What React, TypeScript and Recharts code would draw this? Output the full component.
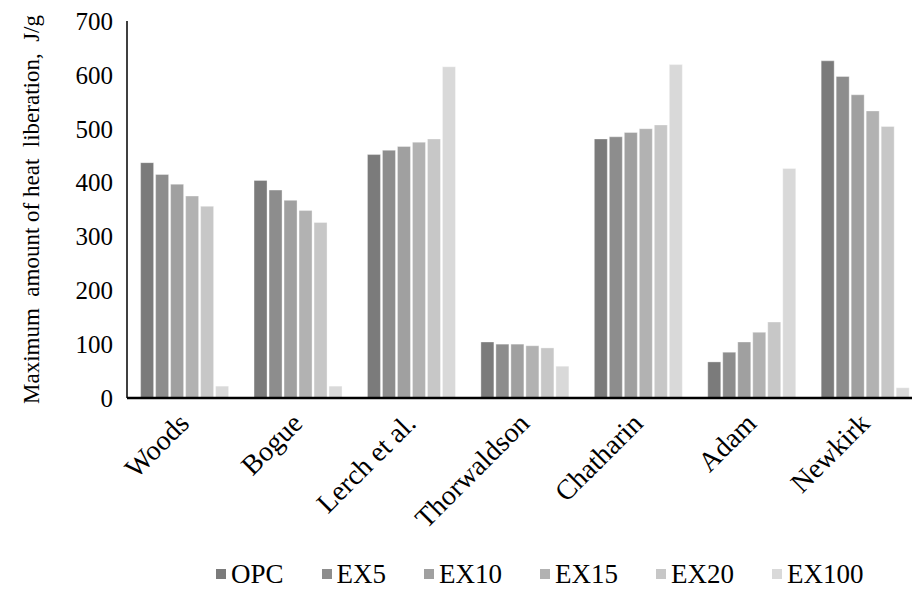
import React from 'react';
import { BarChart, Bar, XAxis, YAxis, Legend, Label } from 'recharts';

// Methods used to estimate the heat of hydration
const categories = ['Woods', 'Bogue', 'Lerch et al.', 'Thorwaldson', 'Chatharin', 'Adam', 'Newkirk'];

// Maximum amount of heat liberation (J/g) per cement mix
const opc = [437, 404, 452, 104, 481, 67, 626];
const ex5 = [415, 386, 460, 100, 485, 85, 597];
const ex10 = [397, 367, 467, 100, 493, 104, 563];
const ex15 = [375, 348, 475, 97, 500, 122, 533];
const ex20 = [356, 326, 481, 93, 507, 141, 504];
const ex100 = [22, 22, 615, 59, 619, 426, 19];

const seriesNames = ['OPC', 'EX5', 'EX10', 'EX15', 'EX20', 'EX100'];
const seriesValues = [opc, ex5, ex10, ex15, ex20, ex100];
const seriesColors = ['#7b7b7b', '#8d8d8d', '#a0a0a0', '#b2b2b2', '#c7c7c7', '#d9d9d9'];

const yTicks = [0, 100, 200, 300, 400, 500, 600, 700];
const yTitle = 'Maximum  amount of heat  liberation,  J/g';

const FONT = '"Liberation Serif", "Times New Roman", serif';

const data = categories.map((name, i) => {
  const row: Record<string, string | number> = { name };
  seriesNames.forEach((s, j) => {
    row[s] = seriesValues[j][i];
  });
  return row;
});

const CategoryTick = (props: any) => {
  const { x, y, payload } = props;
  return (
    <g transform={`translate(${x + 7},${y + 27})`}>
      <text
        x={0}
        y={0}
        textAnchor="end"
        transform="rotate(-45)"
        fontFamily={FONT}
        fontSize={28}
        fill="#000"
      >
        {payload.value}
      </text>
    </g>
  );
};

const YTitle = (props: any) => {
  const { viewBox } = props;
  const cy = viewBox.y + viewBox.height / 2;
  const cx = 39;
  return (
    <text
      x={cx}
      y={cy}
      textAnchor="middle"
      transform={`rotate(-90, ${cx}, ${cy})`}
      fontFamily={FONT}
      fontSize={23}
      fill="#000"
      style={{ whiteSpace: 'pre' }}
    >
      {yTitle}
    </text>
  );
};

// Legend drawn in series order
const SeriesLegend = () => (
  <div
    style={{
      display: 'flex',
      alignItems: 'center',
      marginLeft: 216,
      height: 36,
      fontFamily: FONT,
      fontSize: 27,
      color: '#000',
      whiteSpace: 'nowrap',
    }}
  >
    {seriesNames.map((name, j) => (
      <span
        key={name}
        style={{ display: 'flex', alignItems: 'center', marginRight: 38 }}
      >
        <span
          style={{
            display: 'inline-block',
            width: 10,
            height: 10,
            background: seriesColors[j],
            marginRight: 5,
          }}
        />
        {name}
      </span>
    ))}
  </div>
);

export default function App() {
  return (
    <div
      style={{
        position: 'absolute',
        left: 0,
        top: 0,
        width: 912,
        height: 592,
        overflow: 'hidden',
        background: '#fff',
      }}
    >
      <BarChart
        width={921}
        height={592}
        data={data}
        margin={{ top: 21, right: 0, left: 0, bottom: 0 }}
        barCategoryGap="12%"
        barGap={2}
      >
        <XAxis
          dataKey="name"
          height={158}
          interval={0}
          tickLine={false}
          tickSize={0}
          tickMargin={0}
          axisLine={{ stroke: '#000', strokeWidth: 2.5 }}
          tick={<CategoryTick />}
        />
        <YAxis
          width={127}
          domain={[0, 700]}
          ticks={yTicks}
          interval={0}
          tickLine={false}
          tickSize={0}
          tickMargin={14}
          axisLine={{ stroke: '#000', strokeWidth: 1.5 }}
          tick={{ fontFamily: FONT, fontSize: 25, fill: '#000' }}
        >
          <Label content={<YTitle />} />
        </YAxis>
        <Legend verticalAlign="bottom" height={36} content={<SeriesLegend />} />
        {seriesNames.map((s, j) => (
          <Bar
            key={s}
            dataKey={s}
            fill={seriesColors[j]}
            stroke="#ffffff"
            strokeOpacity={0.35}
            strokeWidth={1}
            isAnimationActive={false}
          />
        ))}
      </BarChart>
    </div>
  );
}
